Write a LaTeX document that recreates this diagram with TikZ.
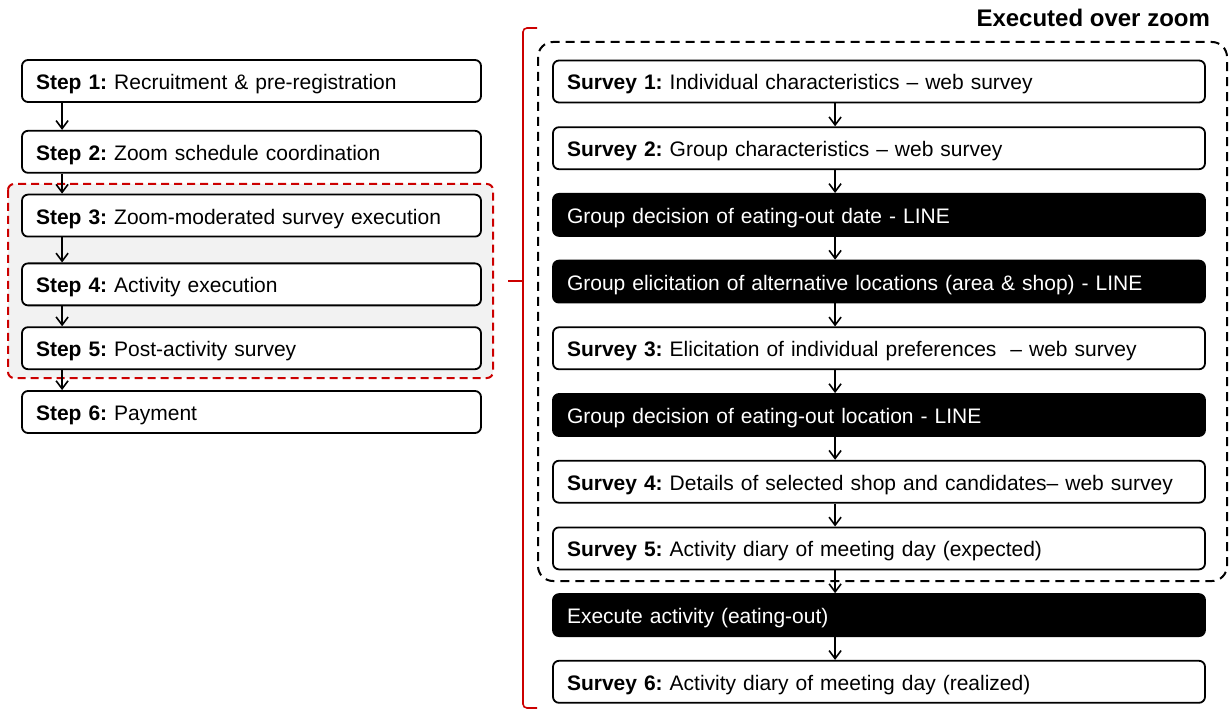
\documentclass[tikz,border=0pt]{standalone}
\usepackage{fontspec}
\setmainfont{Liberation Sans}
\usetikzlibrary{arrows.meta, positioning}
\frenchspacing

\begin{document}
\begin{tikzpicture}[x=0.5pt, y=-0.5pt,
        every node/.style={font=\fontsize{10.5}{12}\selectfont},
        stepbox/.style={draw, rounded corners=3pt, line width=0.9pt, fill=white, align=left,
            minimum height=21pt, inner ysep=0pt, inner xsep=7pt, text width=215.5pt,
            text height=9.5pt, text depth=1pt},
        surveybox/.style={stepbox, text width=312pt},
        groupbox/.style={surveybox, fill=black, text=white},
        arr/.style={draw, line width=0.8pt, -{Straight Barb[length=4pt, width=6pt]}},
        node distance=11.45pt
        ]
        \useasboundingbox (0,0) rectangle (1232,711);

        % zoom-moderated part on the left
        \draw[red!80!black, line width=1pt, dash pattern=on 4pt off 2.5pt, fill=gray!10, rounded corners=3pt]
            (8,184) rectangle (493,378);

        \node[stepbox] (s1) at (251.5,81) {\textbf{Step 1:} Recruitment \& pre-registration};
        \node[stepbox, below=13.5pt of s1] (s2) {\textbf{Step 2:} Zoom schedule coordination};
        \node[stepbox, below=10pt of s2] (s3) {\textbf{Step 3:} Zoom-moderated survey execution};
        \node[stepbox, below=12.5pt of s3] (s4) {\textbf{Step 4:} Activity execution};
        \node[stepbox, below=10pt of s4] (s5) {\textbf{Step 5:} Post-activity survey};
        \node[stepbox, below=10pt of s5] (s6) {\textbf{Step 6:} Payment};

        \foreach \a/\b in {s1/s2, s2/s3, s3/s4, s4/s5, s5/s6}
            \draw[arr] ([xshift=20.5pt]\a.south west) -- ([xshift=20.5pt]\b.north west);

        % brace
        \draw[red!80!black, line width=0.8pt, rounded corners=2pt] (537,28) -- (523,28) -- (523,708) -- (537,708);
        \draw[red!80!black, line width=0.8pt] (523,281) -- (508,281);

        % executed over zoom
        \node[anchor=east, font=\fontsize{12}{14}\selectfont\bfseries] (zoomlabel) at (1217,18) {Executed over zoom};
        \draw[line width=1pt, dash pattern=on 4.5pt off 3pt, rounded corners=7.5pt] (538,42) rectangle (1227,581);

        \node[surveybox] (v1) at (879,81.5) {\textbf{Survey 1:} Individual characteristics -- web survey};
        \node[surveybox, below=of v1] (v2) {\textbf{Survey 2:} Group characteristics -- web survey};
        \node[groupbox, below=of v2] (g1) {Group decision of eating-out date - LINE};
        \node[groupbox, below=of g1] (g2) {Group elicitation of alternative locations (area \& shop) - LINE};
        \node[surveybox, below=of g2] (v3) {\textbf{Survey 3:} Elicitation of individual preferences \ -- web survey};
        \node[groupbox, below=of v3] (g3) {Group decision of eating-out location - LINE};
        \node[surveybox, below=of g3] (v4) {\textbf{Survey 4:} Details of selected shop and candidates-- web survey};
        \node[surveybox, below=of v4] (v5) {\textbf{Survey 5:} Activity diary of meeting day (expected)};
        \node[groupbox, below=of v5] (g4) {Execute activity (eating-out)};
        \node[surveybox, below=of g4] (v6) {\textbf{Survey 6:} Activity diary of meeting day (realized)};

        \foreach \a/\b in {v1/v2, v2/g1, g1/g2, g2/v3, v3/g3, g3/v4, v4/v5, v5/g4, g4/v6}
            \draw[arr] ([xshift=141.5pt]\a.south west) -- ([xshift=141.5pt]\b.north west);
\end{tikzpicture}
\end{document}
